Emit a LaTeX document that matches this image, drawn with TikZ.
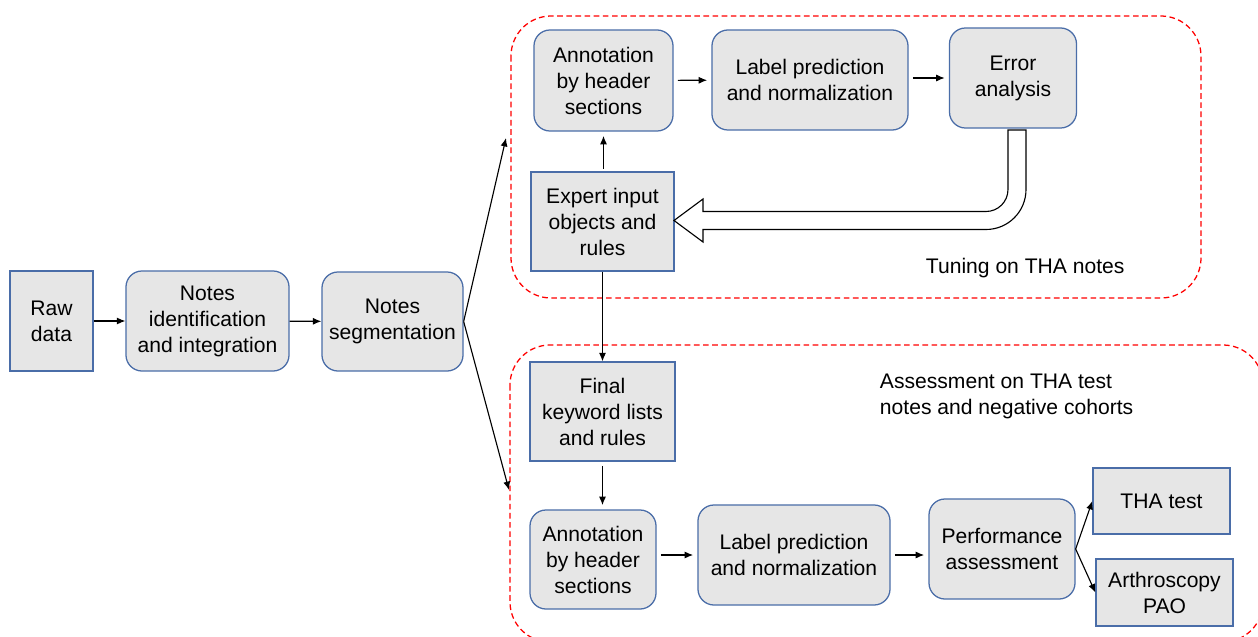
\documentclass[tikz,border=0pt]{standalone}
\usepackage{fontspec}
\setmainfont{Liberation Sans}
\usetikzlibrary{arrows.meta}
\definecolor{boxblue}{HTML}{4A6DA8}
\definecolor{boxgray}{HTML}{E6E6E6}
\begin{document}
\begin{tikzpicture}[x=0.025cm,y=-0.025cm,
txt/.style={font=\fontsize{15}{18.5}\selectfont},
box/.style={txt,draw=boxblue,fill=boxgray,line width=0.9pt,align=center,inner sep=0pt},
rbox/.style={box,rounded corners=0.4cm},
region/.style={draw=red,line width=0.9pt,dash pattern=on 4pt off 2.5pt,rounded corners=1cm},
arr/.style={-{Latex[length=6pt,width=5pt]},line width=0.8pt}]
\useasboundingbox (0,0) rectangle (1258,637);
\draw[region] (511,16) rectangle (1201,298);
\draw[region] (510,345) rectangle (1263,642);
\node[box,minimum width=2.075cm,minimum height=2.5cm] (raw) at (51.5,321) {Raw\\data};
\node[rbox,minimum width=4.075cm,minimum height=2.5cm] (ident) at (207.5,321) {Notes\\identification\\and integration};
\node[rbox,minimum width=3.525cm,minimum height=2.475cm] (segm) at (392.5,321.5) {Notes\\segmentation};
\node[rbox,minimum width=3.475cm,minimum height=2.525cm] (annotA) at (603.5,80.5) {Annotation\\by header\\sections};
\node[rbox,minimum width=4.9cm,minimum height=2.5cm] (labelA) at (810,80) {Label prediction\\and normalization};
\node[rbox,minimum width=3.175cm,minimum height=2.5cm] (error) at (1013,78) {Error\\analysis};
\node[box,minimum width=3.575cm,minimum height=2.475cm] (expert) at (602.5,221.5) {Expert input\\objects and\\rules};
\node[box,minimum width=3.625cm,minimum height=2.475cm] (final) at (602.5,411.5) {Final\\keyword lists\\and rules};
\node[rbox,minimum width=3.15cm,minimum height=2.475cm] (annotB) at (593,559.5) {Annotation\\by header\\sections};
\node[rbox,minimum width=4.8cm,minimum height=2.5cm] (labelB) at (794,555) {Label prediction\\and normalization};
\node[rbox,minimum width=3.65cm,minimum height=2.5cm] (perf) at (1002,549) {Performance\\assessment};
\node[box,minimum width=3.425cm,minimum height=1.65cm] (tha) at (1161.5,501) {THA test};
\node[box,minimum width=3.425cm,minimum height=1.675cm] (arth) at (1164.5,592.5) {Arthroscopy\\PAO};
\node[txt,anchor=west] (tuneLbl) at (921,268) {Tuning on THA notes};
\node[txt,anchor=west,align=left] (testLbl) at (875,396) {Assessment on THA test\\notes and negative cohorts};
\coordinate (tuneIn) at (506,138);
\coordinate (testIn) at (509,490);
\draw[arr] (raw) -- (ident);
\draw[arr] (ident) -- (segm);
\draw[arr] (segm.east) -- (tuneIn);
\draw[arr] (segm.east) -- (testIn);
\draw[arr,shorten <=3pt,shorten >=3pt] (annotA) -- (labelA);
\draw[arr,shorten <=3pt,shorten >=3pt] (labelA.east |- error) -- (error);
\draw[arr,shorten <=2pt,shorten >=3pt] (expert.north -| annotA) -- (annotA.south);
\draw[arr] (expert.south) -- (final.north);
\draw[arr,shorten <=3pt,shorten >=3pt] (final.south) -- (final.south |- annotB.north);
\draw[arr,shorten <=3pt,shorten >=3pt] (annotB.east |- labelB) -- (labelB);
\draw[arr,shorten <=3pt,shorten >=3pt] (labelB.east) -- (labelB.east -| perf.west);
\draw[arr] (perf.east) -- (tha.west);
\draw[arr] (perf.east) -- (arth.west);
\draw[line width=0.8pt,fill=white,line join=miter] (1026,130) -- (1026,189.5) arc[start angle=0,end angle=90,radius=40]
-- (703,229.5) -- (703,242) -- (674,220.5) -- (703,199) -- (703,211.5) -- (986,211.5)
arc[start angle=90,end angle=0,radius=22] -- (1008,130) -- cycle;
\end{tikzpicture}
\end{document}
